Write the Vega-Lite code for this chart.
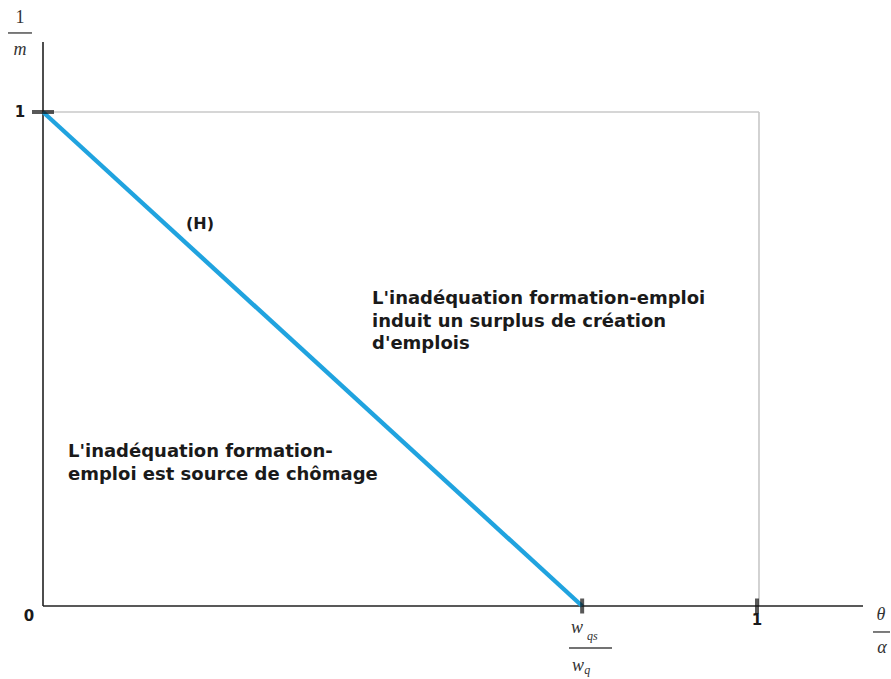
{
  "$schema": "https://vega.github.io/schema/vega-lite/v6.json",
  "width": 891,
  "height": 679,
  "padding": 0,
  "autosize": {"type": "none"},
  "background": "white",
  "config": {"view": {"stroke": null}},
  "encoding": {
    "x": {"field": "x", "type": "quantitative", "axis": null, "scale": {"domain": [-0.06006, 1.18436], "nice": false, "zero": false}},
    "y": {"field": "y", "type": "quantitative", "axis": null, "scale": {"domain": [-0.14777, 1.22672], "nice": false, "zero": false}}
  },
  "layer": [
    {
      "data": {"values": [
        {"x": 0, "y": 1, "x2": 1, "y2": 1},
        {"x": 1, "y": 0, "x2": 1, "y2": 1}
      ]},
      "mark": {"type": "rule", "color": "#c8c8c8", "strokeWidth": 1.6},
      "encoding": {"x2": {"field": "x2"}, "y2": {"field": "y2"}}
    },
    {
      "data": {"values": [
        {"x": 0, "y": 0, "x2": 0, "y2": 1.1417},
        {"x": 0, "y": 0, "x2": 1.1453, "y2": 0}
      ]},
      "mark": {"type": "rule", "color": "#222222", "strokeWidth": 1.6},
      "encoding": {"x2": {"field": "x2"}, "y2": {"field": "y2"}}
    },
    {
      "data": {"values": [
        {"x": 0, "y": 1},
        {"x": 0.753, "y": 0}
      ]},
      "mark": {"type": "line", "color": "#20a3df", "strokeWidth": 4.4},
      "encoding": {}
    },
    {
      "data": {"values": [
        {"x": 0.753, "y": 0},
        {"x": 0.9972, "y": 0}
      ]},
      "mark": {"type": "tick", "orient": "vertical", "color": "#111111", "size": 15, "thickness": 4},
      "encoding": {}
    },
    {
      "data": {"values": [
        {"x": 0, "y": 1}
      ]},
      "mark": {"type": "tick", "orient": "horizontal", "color": "#111111", "size": 22, "thickness": 4},
      "encoding": {}
    },
    {
      "data": {"values": [
        {"x": -0.0321, "y": 1, "label": "1"},
        {"x": -0.0196, "y": -0.0202, "label": "0"},
        {"x": 0.9972, "y": -0.0283, "label": "1"}
      ]},
      "mark": {"type": "text", "font": "DejaVu Sans", "fontWeight": "bold", "fontSize": 15, "color": "#1a1a1a", "align": "center", "baseline": "middle"},
      "encoding": {"text": {"field": "label"}}
    },
    {
      "data": {"values": [
        {"x": 0.2193, "y": 0.7733, "label": "(H)"}
      ]},
      "mark": {"type": "text", "font": "DejaVu Sans", "fontWeight": "bold", "fontSize": 16, "color": "#1a1a1a", "align": "center", "baseline": "middle"},
      "encoding": {"text": {"field": "label"}}
    },
    {
      "data": {"values": [
        {"x": 0.4595, "y": 0.6113, "label": "L'inadéquation formation-emploi\ninduit un surplus de création\nd'emplois"},
        {"x": 0.0349, "y": 0.3016, "label": "L'inadéquation formation-\nemploi est source de chômage"}
      ]},
      "mark": {"type": "text", "font": "DejaVu Sans", "fontWeight": "bold", "fontSize": 18, "lineHeight": 22.5, "lineBreak": "\n", "color": "#1a1a1a", "align": "left", "baseline": "alphabetic"},
      "encoding": {"text": {"field": "label"}}
    },
    {
      "data": {"values": [
        {"x": -0.0489, "y": 1.16, "x2": -0.0154, "y2": 1.16},
        {"x": 1.1592, "y": -0.0526, "x2": 1.183, "y2": -0.0526},
        {"x": 0.7346, "y": -0.085, "x2": 0.7947, "y2": -0.085}
      ]},
      "mark": {"type": "rule", "color": "#444444", "strokeWidth": 1.4},
      "encoding": {"x2": {"field": "x2"}, "y2": {"field": "y2"}}
    },
    {
      "data": {"values": [
        {"x": -0.0321, "y": 1.1903, "label": "1"}
      ]},
      "mark": {"type": "text", "font": "Liberation Serif", "fontSize": 18, "color": "#333333", "align": "center", "baseline": "middle"},
      "encoding": {"text": {"field": "label"}}
    },
    {
      "data": {"values": [
        {"x": -0.0321, "y": 1.1255, "label": "m"},
        {"x": 1.1704, "y": -0.0182, "label": "θ"},
        {"x": 1.1718, "y": -0.085, "label": "α"},
        {"x": 0.7458, "y": -0.0445, "label": "w"},
        {"x": 0.7472, "y": -0.121, "label": "w"}
      ]},
      "mark": {"type": "text", "font": "Liberation Serif", "fontStyle": "italic", "fontSize": 18, "color": "#333333", "align": "center", "baseline": "middle"},
      "encoding": {"text": {"field": "label"}}
    },
    {
      "data": {"values": [
        {"x": 0.7672, "y": -0.0598, "label": "qs"},
        {"x": 0.7602, "y": -0.1305, "label": "q"}
      ]},
      "mark": {"type": "text", "font": "Liberation Serif", "fontStyle": "italic", "fontSize": 12, "color": "#333333", "align": "center", "baseline": "middle"},
      "encoding": {"text": {"field": "label"}}
    }
  ]
}
